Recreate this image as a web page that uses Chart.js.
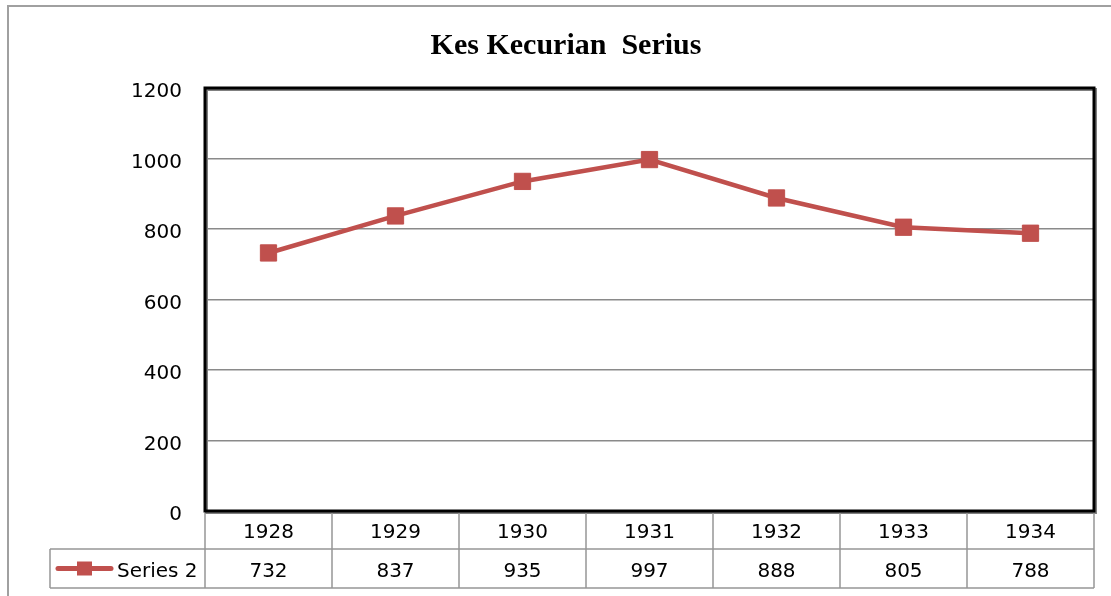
<!DOCTYPE html>
<html>
<head>
<meta charset="utf-8">
<script src="https://cdn.jsdelivr.net/npm/chart.js@4/dist/chart.umd.min.js"></script>
<style>
  html, body { margin: 0; padding: 0; background: #fff; }
  #wrap { width: 1111px; height: 596px; }
</style>
</head>
<body>
<div id="wrap"><canvas id="chart" width="1111" height="596"></canvas></div>
<script>
    // chart data
    const chartTitle = 'Kes Kecurian  Serius';
    const years = ['1928', '1929', '1930', '1931', '1932', '1933', '1934'];
    const seriesName = 'Series 2';
    const seriesValues = [732, 837, 935, 997, 888, 805, 788];
    const yTicks = [0, 200, 400, 600, 800, 1000, 1200];

    const red = '#C0504D';
    const labelFont = '20px "DejaVu Sans"';

    // outer frame, title and plot border
    const framePlugin = {
        id: 'frame',
        beforeDraw(chart) {
            const ctx = chart.ctx;
            ctx.save();
            ctx.strokeStyle = '#a0a0a0';
            ctx.lineWidth = 2;
            ctx.beginPath();
            ctx.moveTo(8, chart.height);
            ctx.lineTo(8, 6);
            ctx.lineTo(chart.width, 6);
            ctx.stroke();

            ctx.fillStyle = '#000';
            ctx.font = 'bold 30px "Liberation Serif"';
            ctx.textAlign = 'center';
            ctx.textBaseline = 'alphabetic';
            ctx.fillText(chartTitle, 566, 54);
            ctx.restore();
        },
        beforeDatasetsDraw(chart) {
            const ctx = chart.ctx;
            const a = chart.chartArea;
            ctx.save();
            ctx.strokeStyle = '#808080';
            ctx.lineWidth = 3;
            ctx.strokeRect(a.left + 1.5, a.top + 1.5, a.width, a.height);
            ctx.strokeStyle = '#000';
            ctx.strokeRect(a.left, a.top, a.width, a.height);
            ctx.restore();
        }
    };

    // data table under the plot
    const tablePlugin = {
        id: 'dataTable',
        afterDraw(chart) {
            const ctx = chart.ctx;
            const a = chart.chartArea;
            const xs = chart.scales.x;
            const colW = a.width / years.length;
            const row1 = a.bottom + 38;
            const row2 = a.bottom + 77;
            const legendLeft = 50;

            ctx.save();
            ctx.strokeStyle = '#969696';
            ctx.lineWidth = 1.5;
            ctx.beginPath();
            for (let i = 0; i <= years.length; i++) {
                const x = a.left + i * colW;
                ctx.moveTo(x, a.bottom + 2);
                ctx.lineTo(x, row2);
            }
            ctx.moveTo(legendLeft, row1);
            ctx.lineTo(a.right, row1);
            ctx.moveTo(legendLeft, row2);
            ctx.lineTo(a.right, row2);
            ctx.moveTo(legendLeft, row1);
            ctx.lineTo(legendLeft, row2);
            ctx.stroke();

            ctx.fillStyle = '#000';
            ctx.font = labelFont;
            ctx.textAlign = 'center';
            ctx.textBaseline = 'middle';
            years.forEach((y, i) => {
                ctx.fillText(y, xs.getPixelForValue(i), (a.bottom + row1) / 2 + 3);
            });
            seriesValues.forEach((v, i) => {
                ctx.fillText(String(v), xs.getPixelForValue(i), (row1 + row2) / 2 + 3);
            });

            // legend key
            const ly = (row1 + row2) / 2;
            ctx.strokeStyle = red;
            ctx.lineWidth = 5;
            ctx.lineCap = 'round';
            ctx.beginPath();
            ctx.moveTo(58, ly);
            ctx.lineTo(111, ly);
            ctx.stroke();
            ctx.fillStyle = red;
            ctx.fillRect(77, ly - 7, 15, 14);

            ctx.fillStyle = '#000';
            ctx.textAlign = 'left';
            ctx.fillText(seriesName, 117, ly + 3);
            ctx.restore();
        }
    };

    const chart = new Chart(document.getElementById('chart'), {
        type: 'line',
        data: {
            labels: years,
            datasets: [{
                label: seriesName,
                data: seriesValues,
                borderColor: red,
                backgroundColor: red,
                borderWidth: 4.5,
                pointStyle: 'rect',
                pointRadius: 11.5,
                pointBorderWidth: 1,
                pointBackgroundColor: red,
                pointBorderColor: red,
                tension: 0
            }]
        },
        options: {
            responsive: false,
            animation: false,
            layout: { padding: { top: 88, right: 17, bottom: 85, left: 0 } },
            plugins: {
                legend: { display: false },
                title: { display: false },
                tooltip: { enabled: false }
            },
            scales: {
                x: {
                    display: false,
                    offset: true
                },
                y: {
                    min: 0,
                    max: 1200,
                    afterBuildTicks(scale) {
                        scale.ticks = yTicks.map(v => ({ value: v }));
                    },
                    afterFit(scale) {
                        scale.width = 205;
                    },
                    border: { display: false },
                    grid: { color: '#8a8a8a', lineWidth: 1.5, drawTicks: false },
                    ticks: {
                        color: '#000',
                        padding: 23,
                        labelOffset: 4,
                        font: { family: 'DejaVu Sans', size: 20 },
                        callback: (v) => String(v)
                    }
                }
            }
        },
        plugins: [framePlugin, tablePlugin]
    });
</script>
</body>
</html>
